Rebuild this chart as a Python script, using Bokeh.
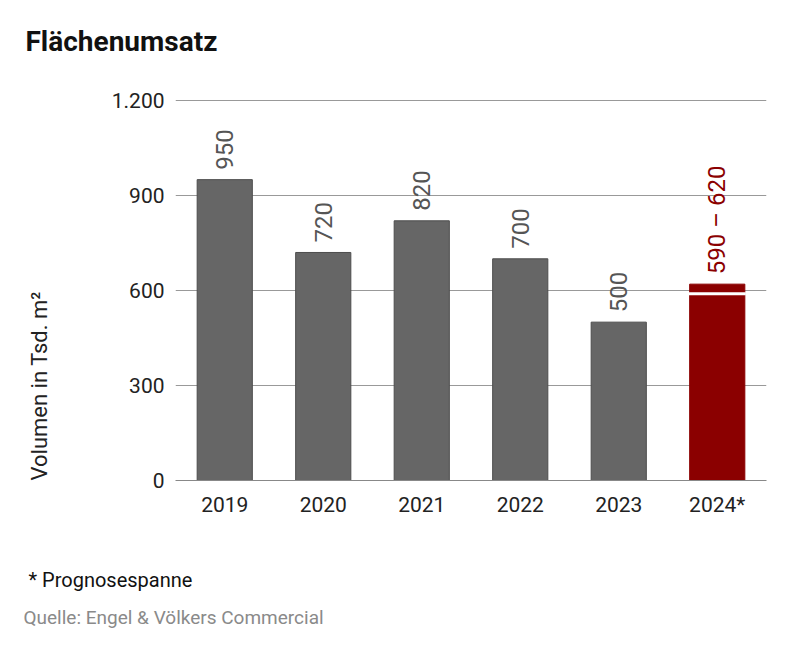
import math
from bokeh.plotting import figure
from bokeh.models import Title, Range1d, ColumnDataSource, FixedTicker, CustomJSTickFormatter, LinearAxis, CategoricalAxis
from bokeh.core.properties import value
from bokeh.embed import file_html
from bokeh.resources import INLINE

years = ["2019", "2020", "2021", "2022", "2023", "2024*"]
values = [950, 720, 820, 700, 500]
hist_years = years[:5]
forecast_low = 590
forecast_high = 620
forecast_label = "590 – 620"
y_ticks = [0, 300, 600, 900, 1200]

FONT = "Roboto"
GRAY = "#666666"
RED = "#8b0000"

p = figure(x_range=years, y_range=Range1d(0, 1203), width=783, height=645,
           output_backend="svg", toolbar_location=None,
           min_border_left=175, min_border_right=17, min_border_top=99, min_border_bottom=165)
p.outline_line_color = None
p.background_fill_color = "white"

src = ColumnDataSource(dict(x=hist_years, top=values, lab=[str(v) for v in values]))
p.vbar(x="x", top="top", bottom=0, width=0.56, source=src, fill_color=GRAY, line_color="#4d4d4d", line_width=1)

# forecast bar
p.vbar(x=[years[5]], top=[forecast_low], bottom=0, width=0.56, fill_color=RED, line_color=RED, line_width=1)
p.vbar(x=[years[5]], top=[forecast_high], bottom=forecast_low, width=0.56, fill_color=RED, line_color=RED, line_width=1)
p.segment(x0=[(years[5], -0.29)], x1=[(years[5], 0.29)], y0=[forecast_low], y1=[forecast_low], line_color="white", line_width=3)

p.text(x="x", y="top", text="lab", source=src, angle=math.pi / 2, text_align="left", text_baseline="middle",
       y_offset=-10, text_color="#555555", text_font=value(FONT), text_font_size="24px")
p.text(x=[years[5]], y=[forecast_high], text=[forecast_label], angle=math.pi / 2, text_align="left",
       text_baseline="middle", y_offset=-10, text_color=RED, text_font=value(FONT), text_font_size="24px")

p.xgrid.grid_line_color = None
p.ygrid.grid_line_color = "#999999"
p.ygrid.grid_line_width = 1
p.yaxis.ticker = FixedTicker(ticks=y_ticks)
p.yaxis.formatter = CustomJSTickFormatter(code="return tick >= 1000 ? (tick/1000).toFixed(0) + '.' + String(tick % 1000).padStart(3,'0') : String(tick);")
for ax in (p.xaxis[0], p.yaxis[0]):
    ax.axis_line_color = None
    ax.major_tick_line_color = None
    ax.minor_tick_line_color = None
    ax.major_tick_out = 0
    ax.major_tick_in = 0
    ax.minor_tick_out = 0
    ax.major_label_text_font = FONT
    ax.major_label_text_font_size = "21px"
    ax.major_label_text_color = "#222222"
p.yaxis.major_label_standoff = 11
p.xaxis.major_label_standoff = 12
p.xaxis.axis_line_color = "#888888"


def y_spacer(size):
    return LinearAxis(ticker=FixedTicker(ticks=[0]), major_tick_out=size, major_tick_in=0, minor_tick_out=0,
                      major_tick_line_color=None, minor_tick_line_color=None, axis_line_color=None,
                      major_label_standoff=0, major_label_text_color=None,
                      major_label_text_font_size="1px", axis_label_standoff=0)


def x_spacer(size):
    return CategoricalAxis(major_tick_out=size, major_tick_in=0, minor_tick_out=0,
                           major_tick_line_color=None, minor_tick_line_color=None, axis_line_color=None,
                           major_label_standoff=0, major_label_text_color=None,
                           major_label_text_font_size="1px", axis_label_standoff=0)


# left: y axis, spacer, axis title
p.add_layout(y_spacer(55), "left")
p.add_layout(Title(text="Volumen in Tsd. m²", align="left", offset=0, standoff=4,
                   text_font=FONT, text_font_size="22px", text_font_style="normal", text_color="#222222"), "left")

# above: spacer, chart title
p.add_layout(x_spacer(40), "above")
p.add_layout(Title(text="Flächenumsatz", align="left", offset=-150, standoff=4,
                   text_font=FONT, text_font_size="28px", text_font_style="bold", text_color="#111111"), "above")

# below: x axis, spacer, footnote, source
p.add_layout(x_spacer(45), "below")
p.add_layout(Title(text="* Prognosespanne", align="left", offset=-147, standoff=2,
                   text_font=FONT, text_font_size="20px", text_font_style="normal", text_color="#111111"), "below")
p.add_layout(Title(text="Quelle: Engel & Völkers Commercial", align="left", offset=-152, standoff=23,
                   text_font=FONT, text_font_size="19px", text_font_style="normal", text_color="#8a8a8a"), "below")

open("out.html", "w").write(file_html(p, INLINE))
